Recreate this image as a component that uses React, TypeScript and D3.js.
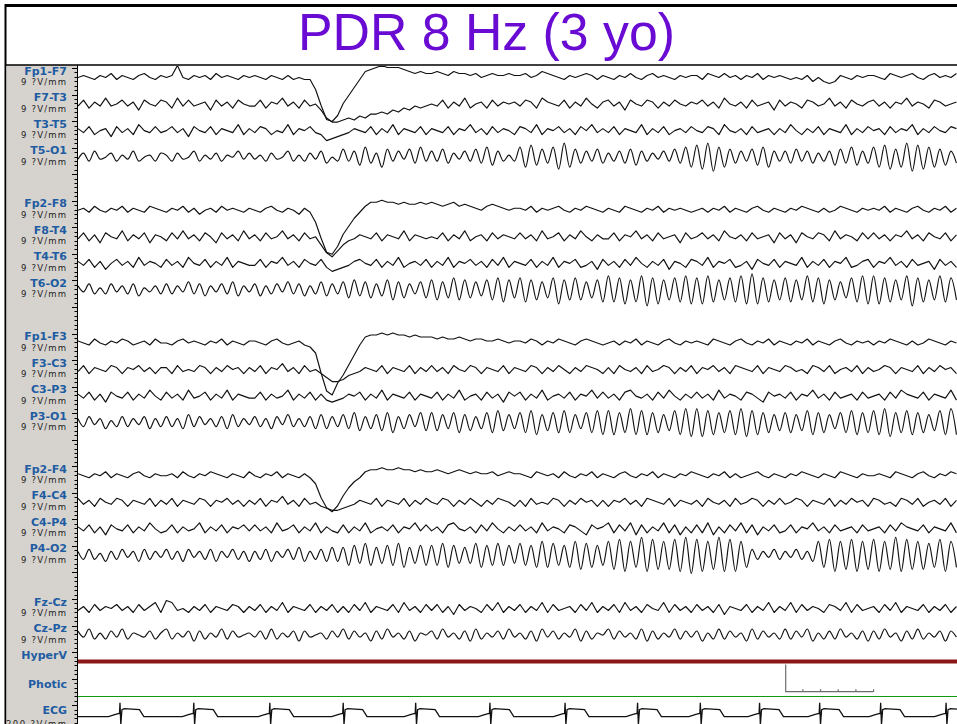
import * as d3 from "d3";

// ---- data ----
const title = "PDR 8 Hz (3 yo)";
const eegSensitivity = "9 ?V/mm";
const ecgSensitivity = "200 ?V/mm";
const pageSeconds = 10;

const groups = [
  ["Fp1-F7", "F7-T3", "T3-T5", "T5-O1"],
  ["Fp2-F8", "F8-T4", "T4-T6", "T6-O2"],
  ["Fp1-F3", "F3-C3", "C3-P3", "P3-O1"],
  ["Fp2-F4", "F4-C4", "C4-P4", "P4-O2"],
  ["Fz-Cz", "Cz-Pz", "HyperV", "Photic", "ECG"],
];

// posterior channels carry the rhythm and are drawn smooth
const rhythmChannels = ["T5-O1", "T6-O2", "P3-O1", "P4-O2", "Cz-Pz"];

// one string per second, 16 samples each; "0" = baseline, A..Z = +1..+26, a..z = -1..-26
const fp1F7 = ["0A0aA0BaA0aAB0aA", "0AF0aA0AaB0A0aA0", "A0aA0aAa0aafnuvs", "mieaCDEFEEEDCBCB", "BCBACBBAB0ABAABA", "AB0ACBA0aA0ABAaA", "0aA0B0aAB0A0aA0A", "AaBA0B0AaA0BaA0A", "0a0aAb0bcbA0aA0A", "A0aBA0AB0aAB0A0B"];
const f7T3 = ["aBbAaCa0BaAcB0aB", "AbCaBa0AcBaAbB0a", "aBbA0CaAbBa0cgii", "hghfgeedecdbcaba", "0aBbAaCb0AbBaA0A", "aBAbCA0aBbAaC0bA", "BaAcB0aBAbAaB0aA", "0BaAbC0aAbBa0AcB", "aA0bBAa0CaAbB0aA", "BaAbA0CaA0bBAa0A"];
const t3T5 = ["AaBb0AcBaAbC0aBa", "0BaAcB0aBbA0aCbA", "aBAb0aCbA0Babedc", "baA0aBbAaCbA0aBb", "A0aBbA0CaAbBaA0b", "BAaCbA0BaAbB0CaA", "aBbA0aCbAaBb0AaB", "0aBAbC0aAbBa0AbA", "aC0bAaBbA0aCbAaB", "0AbBaA0CbAaB0aBA"];
const t5O1 = ["aBbCa0BbAaCb0AbB", "AbBa0CbAaBbA0CaB", "aAbBa0CbAbBaCc0b", "DbCdEcBeDbCaDcEb", "CbDcBaCbDcEdCbAb", "EeFdDcEfGeDcCbDc", "BbCcDdCbBaCbDcEe", "FfGgEeDcCbDdEeCb", "CcDbCcBbCdDcEdCc", "EeFfDeGgFfEeDdCc"];
const fp2F8 = ["0AaB0aA0BaA0aBA0", "aA0BaAb0AaB0A0aA", "0aAB0aA0bAafnuvr", "lhdaBDDEDDCDCCDC", "DCBCDBCBA0BCBA0A", "A0BaA0AB0aA0BA0a", "A0aBA0aA0BaA0A0a", "0AaA0BaA0aAB0aA0", "aA0BA0aAa0BA0aA0", "A0BaA0aAB0aA0BaA"];
const f8T4 = ["aBbAcB0aCbAaBcA0", "bBaCaAbB0cBaAbCa", "AbBa0CaAbBa0dhjg", "dbaA0aBbA0aCbA0a", "0aBbAaCb0AbBaA0a", "BaAbCa0BbAaC0bAa", "aBbA0CaAbBa0AcBa", "0BaAbC0aAbBa0AcB", "aAcB0aBAbCaA0bBa", "BaAbA0CaAbB0aBbA"];
const t4T6 = ["AaBbAc0BaAbCaA0b", "BaAbC0aBbAaCbA0a", "aBbA0CaAbB0aBbdc", "baAB0aBbAaCb0AaB", "bAaCbA0BaAbBaCbA", "0aBbAaCbA0BbaAcB", "aAbBaC0bAaBcA0bB", "AaCbA0BbaAcB0aBb", "A0aCbAaBbA0CbaAB", "bA0CaAbBa0AcBaAb"];
const t6O2 = ["BaCbAbCaBbCcAaBb", "CbBaDbCcBaCbDcBa", "CcBbCaDbCcBbDcCb", "DdEcDdCcEeDdCbDd", "EeDdFeEdDcEeFfEd", "FfEeDdFgEeFeDdEf", "GfFgEfGhFgEeFfGg", "FgGfEeFfGgHgFfEe", "FfEeGfFgEeDdFfGg", "GgFfEeGhFfEeGfFe"];
const fp1F3 = ["A0aB0aA0BAa0AaB0", "0aAB0A0aA0BaA0aA", "A0aAB0a0Aabeoxzt", "pkfaCDDEDEDDCDCC", "CBCBBCBABBAABA0A", "A0BAaA0BA0aABA0a", "0AaA0BaA0aAB0aA0", "A0aBA0aAB0aA0BaA", "0aA0BaA0aAB0aA0A", "aA0BA0aAa0BA0aA0"];
const f3C3 = ["aBbA0aBAbA0BaAbA", "AbBa0aBAbAaB0AbA", "aBbA0CaAbBa0bdff", "ecbaA0aBbA0aBbAa", "BaAbB0aBAbA0aBbA", "0aBAbAaB0bAaBA0b", "AbB0aAbBa0BAbAaB", "bA0BaAbBA0aBbA0a", "BAa0bBAaBb0AaBbA", "a0BAbA0aBbAaB0Ab"];
const c3P3 = ["AaBbAcB0aBbAaC0b", "BaAbCa0BbAaCbA0a", "aBbAa0CbAaBbAbcb", "aA0BbAaCbA0aBbA0", "aBbAaCb0AbBaAcB0", "BbAaCb0AaBbA0CaB", "aAbBC0aAbBaC0bAa", "BaAbCaA0bBAacB0A", "aBbA0CaAbBa0AbBa", "0AbBaCA0aBbA0aCb"];
const p3O1 = ["BbCaBcAbCbBaCcBb", "CbBcDbCaBbCcDbBa", "CbBcCaDbBbCcDcCb", "DcEdCcDdEeCcDbEd", "EdDcEeDdCcEeFdDc", "EeFfDdEeFeDcEeFf", "FfEeGfFfEeDdFfGg", "GgFfEeFfGgFfEeDd", "EeDdFfEeDcEeFfEe", "FfGgEeFfEeDdFfGf"];
const fp2F4 = ["A0aA0BaA0aAB0aA0", "0AaB0aA0BA0aA0aB", "0aA0BaA0aAadkpro", "jfcaBCCDCCDCCBCB", "BCBABCBABAAB0ABA", "A0aBA0AaB0aA0BaA", "0aAB0aA0BaA0aA0B", "A0aA0BaAa0AB0aA0", "aA0BA0aA0aBA0aA0", "0A0aBA0aAB0aA0BA"];
const f4C4 = ["BaAbB0aBAbA0aBbA", "aBbA0aBAbA0BaAbA", "aBbA0CaAbBa0bcdd", "cbaA0aBbA0aBbAaB", "0aBAbAaB0bAaBA0b", "AbBa0aBAbAaB0AbA", "bA0BaAbBA0aBbA0a", "AbB0aAbBa0BAbAaB", "a0BAbA0aBbAaB0Ab", "BAa0bBAaBb0AaBbA"];
const c4P4 = ["AaBbAcB0aBbAaC0b", "aBbAa0CbAaBbA0Ba", "BaAbCa0BbAaCbAab", "BbAaCb0AaBbA0CaB", "aAbBC0aAbBaC0bAa", "BaAbCaA0bBAacB0A", "CbBaCcBbAaCbBcAb", "BbCcAbBaCbBcAaBb", "aBbA0CaAbBa0AbBa", "0AbBaCA0aBbA0aCb"];
const p4O2 = ["BbCbAcBbCaBcCbBa", "CbBcCaBbCcBaCbBc", "BbCcBaCbDcBbCcDc", "DeEdFeDdEeFfDdEe", "EeFfEdDdFfEeFeEd", "FeEfGfFeEfGgFfEe", "GgHhGfIhHgGgHhIi", "HhGgIhHhGfCbBaCb", "BaCbBcGfHhGgHhGg", "HhGgIhHgGgFfHhGf"];
const fzCz = ["aAbBaA0BaAbBaACb", "DCa0bAaBbA0aBAbA", "aBbAaCbA0aBbAaBb", "AbBaCbA0aBbCaAbB", "aBbAcBaA0bBaCbAa", "BbAaCbBa0AbBaCbA", "aBbCaAbB0aCbBaAb", "BaAbBcA0aBbAaCbA", "aCbBaA0bBAaCbBa0", "AbBaCbA0aBbAaBbA"];
const czPz = ["BaCbAbBaCbA0aBbA", "CbAaBcBbAaCbBa0A", "aBbCbAaBcBa0AbBa", "CbBaAcBbCaAbBcA0", "BbCaAbBcCbAaBbCa", "AbBcCaBbAaCcBbA0", "CbBaAbCcBbAaCbBa", "BcAbCbBaAcCbBaAb", "CbBaCcAbBbCaAbBc", "BbCaAcBbCbAaBcBa"];

// ECG: R-wave times (s) and one beat's shape (offset s, deflection)
const ecgBeats = [0.475, 1.31, 2.17, 3.0, 3.82, 4.66, 5.51, 6.33, 7.04, 7.71, 8.39, 9.08, 9.82];
const beatOffsets = [-0.13, -0.06, -0.02, -0.006, 0, 0.009, 0.022, 0.05, 0.22, 0.27, 0.5];
const beatValues = [-2, 0, 1, 1, 12, -10, 5, 6, 5, -2, -2];

const calibStart = 8.0; // s
const calibTicks = [0, 0.2, 0.4, 0.6, 0.8, 1.0];

const eeg: Record<string, string[]> = {
  "Fp1-F7": fp1F7, "F7-T3": f7T3, "T3-T5": t3T5, "T5-O1": t5O1,
  "Fp2-F8": fp2F8, "F8-T4": f8T4, "T4-T6": t4T6, "T6-O2": t6O2,
  "Fp1-F3": fp1F3, "F3-C3": f3C3, "C3-P3": c3P3, "P3-O1": p3O1,
  "Fp2-F4": fp2F4, "F4-C4": f4C4, "C4-P4": c4P4, "P4-O2": p4O2,
  "Fz-Cz": fzCz, "Cz-Pz": czPz,
};

const W = 957;
const H = 724;
const LEFT = 78;
const TOP = 65;
const LABEL_X = 67;
const BLUE = "#1f5ca2";

const level = (c: string) =>
  c === "0" ? 0 : c >= "a" ? -(c.charCodeAt(0) - 96) : c.charCodeAt(0) - 64;

export default function App() {
  // slot index for every row: one empty slot between montage groups
  const rows: { name: string; slot: number }[] = [];
  let s = 0;
  groups.forEach((g, gi) => {
    if (gi > 0) s += 1;
    g.forEach((name) => rows.push({ name, slot: s++ }));
  });

  const x = d3.scaleLinear().domain([0, pageSeconds]).range([LEFT, 962]);
  const y = d3.scaleLinear().domain([0, 24]).range([77.5, 714.7]);
  const amp = d3.scaleLinear().domain([0, 1]).range([0, -2]);
  const ecgAmp = d3.scaleLinear().domain([0, 1]).range([0, -1]);

  const smooth = d3
    .line<[number, number]>()
    .x((d) => x(d[0]))
    .y((d) => d[1])
    .curve(d3.curveCatmullRom.alpha(0.5));
  const jagged = d3
    .line<[number, number]>()
    .x((d) => x(d[0]))
    .y((d) => d[1]);

  const eegPath = (name: string, yc: number) => {
    const pts: [number, number][] = eeg[name].flatMap((chunk, k) =>
      chunk.split("").map((c, j) => [k + j / chunk.length, yc + amp(level(c))] as [number, number])
    );
    const gen = rhythmChannels.includes(name) ? smooth : jagged;
    return gen(pts) ?? "";
  };

  const ecgPath = (yc: number) => {
    const pts: [number, number][] = [[0, yc + ecgAmp(-2)]];
    ecgBeats.forEach((b) =>
      beatOffsets.forEach((o, i) => pts.push([b + o, yc + ecgAmp(beatValues[i])]))
    );
    pts.push([pageSeconds, yc + ecgAmp(-2)]);
    return jagged(pts) ?? "";
  };

  const rulerStep = (y(1) - y(0)) / 6;
  const rulerTicks = d3.range(0, Math.floor((H - TOP) / rulerStep) + 1);

  const rowY = (name: string) => y(rows.find((r) => r.name === name)!.slot);
  const hyperY = rowY("HyperV");
  const photicY = rowY("Photic");
  const ecgY = rowY("ECG");
  const greenY = Math.round(photicY + 7.5) + 0.5;

  return (
    <svg
      width={W}
      height={H}
      style={{ position: "absolute", left: 0, top: 0, background: "#fff" }}
      fontFamily="'DejaVu Sans', sans-serif"
    >
      <defs>
        <clipPath id="traces">
          <rect x={LEFT} y={TOP + 1} width={W - LEFT} height={H - TOP} />
        </clipPath>
      </defs>

      {/* title */}
      <text
        x={486.5}
        y={50}
        textAnchor="middle"
        fontFamily="'Liberation Sans', Arial, sans-serif"
        fontSize={52}
        fill="#6a0bd4"
        textLength={377}
        lengthAdjust="spacingAndGlyphs"
      >
        {title}
      </text>

      {/* frame */}
      <line x1={5} x2={W} y1={5.5} y2={5.5} stroke="#000" strokeWidth={3} />
      <line x1={5.5} x2={5.5} y1={4} y2={H} stroke="#000" strokeWidth={2} />
      <rect x={6.5} y={TOP} width={LEFT - 6.5} height={H - TOP} fill="#d6d3ce" />
      <line x1={5} x2={W} y1={TOP} y2={TOP} stroke="#000" strokeWidth={1.5} />

      {/* ruler */}
      <line x1={LEFT - 0.5} x2={LEFT - 0.5} y1={TOP} y2={H} stroke="#000" strokeWidth={1} />
      {rulerTicks.map((i) => {
        const ty = TOP + 3 + i * rulerStep;
        const long = i % 6 === 0;
        return (
          <line
            key={i}
            x1={LEFT - (long ? 6 : 3.5)}
            x2={LEFT}
            y1={Math.round(ty) + 0.5}
            y2={Math.round(ty) + 0.5}
            stroke="#000"
            strokeWidth={1}
          />
        );
      })}

      {/* labels */}
      {rows.map((r) => {
        const yc = y(r.slot);
        const isEeg = !!eeg[r.name];
        const labelY =
          r.name === "HyperV" ? yc - 3 : r.name === "Photic" ? yc : r.name === "ECG" ? yc - 0.5 : yc - 3;
        return (
          <g key={r.name}>
            <text x={LABEL_X} y={labelY} textAnchor="end" fontWeight="bold" fontSize={11} fill={BLUE}>
              {r.name}
            </text>
            {(isEeg || r.name === "ECG") && (
              <text
                x={LABEL_X - 1}
                y={r.name === "ECG" ? yc + 12 : yc + 7.5}
                textAnchor="end"
                fontSize={8.5}
                fill="#222"
                textLength={r.name === "ECG" ? 60 : 45}
                lengthAdjust="spacing"
              >
                {r.name === "ECG" ? ecgSensitivity : eegSensitivity}
              </text>
            )}
          </g>
        );
      })}

      <g clipPath="url(#traces)">
        {/* EEG traces */}
        {rows
          .filter((r) => eeg[r.name])
          .map((r) => (
            <path
              key={r.name}
              d={eegPath(r.name, y(r.slot))}
              fill="none"
              stroke="#111"
              strokeWidth={1.15}
              strokeLinejoin="round"
            />
          ))}

        {/* HyperV channel */}
        <line x1={LEFT} x2={W} y1={hyperY} y2={hyperY} stroke="#8b1616" strokeWidth={4} />

        {/* Photic channel with calibration bar */}
        <line x1={LEFT} x2={W} y1={greenY} y2={greenY} stroke="#109a10" strokeWidth={1} />
        <g stroke="#6e6e6e" strokeWidth={1.2} fill="none">
          <line
            x1={x(calibStart) + 0.5}
            x2={x(calibStart) + 0.5}
            y1={hyperY + 3}
            y2={photicY + 3.5}
          />
          <line
            x1={x(calibStart)}
            x2={x(calibStart + 1)}
            y1={photicY + 3.5}
            y2={photicY + 3.5}
          />
          {calibTicks.slice(1).map((t) => (
            <line
              key={t}
              x1={x(calibStart + t)}
              x2={x(calibStart + t)}
              y1={photicY + 3.5}
              y2={photicY + 1}
            />
          ))}
        </g>

        {/* ECG */}
        <path d={ecgPath(ecgY)} fill="none" stroke="#111" strokeWidth={1.3} />
      </g>
    </svg>
  );
}
